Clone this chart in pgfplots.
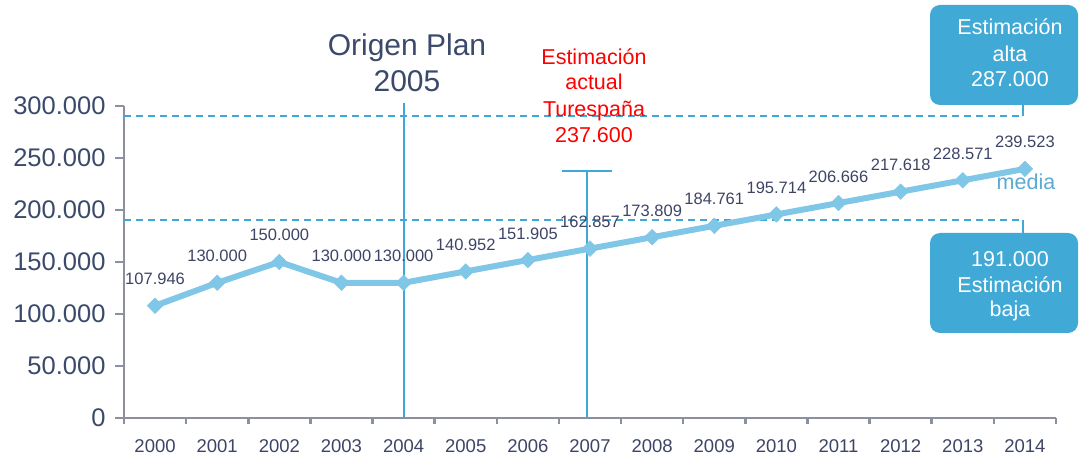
\documentclass[border=0pt]{standalone}
\usepackage{fontspec}
\setmainfont{Liberation Sans}
\usepackage{pgfplots}
\pgfplotsset{compat=1.18}
\usepackage{pgfplotstable}
\definecolor{axisgray}{HTML}{8C8FA0}
\definecolor{navy}{HTML}{3B4A6B}
\definecolor{lblue}{HTML}{80C6E6}
\definecolor{dblue}{HTML}{3FA8D8}
\definecolor{boxblue}{HTML}{41A9D6}
\definecolor{labc}{HTML}{3D4466}
\definecolor{mediac}{HTML}{5BAAD2}

\pgfplotstableread{
x y lab
0 107946 107.946
1 130000 130.000
2 150000 150.000
3 130000 130.000
4 130000 130.000
5 140952 140.952
6 151905 151.905
7 162857 162.857
8 173809 173.809
9 184761 184.761
10 195714 195.714
11 206666 206.666
12 217618 217.618
13 228571 228.571
14 239523 239.523
}\data

\begin{document}
\begin{tikzpicture}
\useasboundingbox (0,0) rectangle (1080pt,458pt);
\begin{axis}[at={(124pt,40pt)}, anchor=south west, scale only axis,
  width=932pt, height=312pt,
  xmin=-0.5, xmax=14.5, ymin=0, ymax=300000,
  scaled y ticks=false,
  axis x line*=bottom, axis y line*=left,
  axis line style={draw=axisgray, line width=2.5pt, -},
  clip=false,
  xtick={0,...,14},
  xticklabels={2000,2001,2002,2003,2004,2005,2006,2007,2008,2009,2010,2011,2012,2013,2014},
  minor xtick={-0.5,0.5,...,14.5},
  major x tick style={draw=none},
  minor x tick style={draw=axisgray, line width=2.5pt},
  minor tick length=6pt,
  ytick={0,50000,100000,150000,200000,250000,300000},
  yticklabels={0,50.000,100.000,150.000,200.000,250.000,300.000},
  y tick style={draw=axisgray, line width=2.5pt},
  major tick length=9pt,
  tick align=outside,
  xticklabel style={font=\fontsize{18.5}{21}\selectfont, text=labc, yshift=-9pt},
  yticklabel style={font=\fontsize{25.5}{29}\selectfont, text=navy, xshift=-6pt},
]
% reference lines
\addplot[dblue, line width=2pt, dash pattern=on 7pt off 5pt] coordinates {(-0.5,290000) (13.97,290000)};
\addplot[dblue, line width=2pt, dash pattern=on 7pt off 5pt] coordinates {(-0.5,190400) (13.97,190400)};
\addplot[dblue, line width=1.5pt] coordinates {(13.97,290000) (13.97,302900)};
\addplot[dblue, line width=1.5pt] coordinates {(13.97,190400) (13.97,177900)};
\addplot[dblue, line width=2pt] coordinates {(4,0) (4,302900)};
\addplot[dblue, line width=2pt] coordinates {(6.95,0) (6.95,237600)};
\addplot[dblue, line width=2pt] coordinates {(6.55,237600) (7.35,237600)};
% series
\addplot[lblue, line width=6pt, mark=square*, mark size=5.5pt,
  mark options={solid, rotate=45, fill=lblue, draw=lblue, line width=0.5pt},
  nodes near coords, point meta=explicit symbolic,
  every node near coord/.append style={anchor=base, yshift=21pt, inner sep=0pt,
    font=\fontsize{16.5}{19}\selectfont, text=labc}]
  table[x=x, y=y, meta=lab] {\data};
\end{axis}
% annotations
\node[anchor=base, text=navy, font=\fontsize{30}{34}\selectfont] at (407pt,402pt) {Origen Plan};
\node[anchor=base, text=navy, font=\fontsize{30}{34}\selectfont] at (407pt,366pt) {2005};
\begin{scope}[every node/.style={anchor=base, text=red, font=\fontsize{21.5}{24}\selectfont}]
\node at (594pt,393pt) {Estimación};
\node at (594pt,368pt) {actual};
\node at (594pt,341pt) {Turespaña};
\node at (594pt,315pt) {237.600};
\end{scope}
\node[anchor=base, text=mediac, font=\fontsize{21.5}{24}\selectfont] at (1026pt,268pt) {media};
% boxes
\fill[boxblue, rounded corners=10pt] (930pt,353pt) rectangle (1078pt,453pt);
\fill[boxblue, rounded corners=10pt] (930pt,125pt) rectangle (1078pt,225pt);
\begin{scope}[every node/.style={anchor=base, text=white, font=\fontsize{21.5}{24}\selectfont}]
\node at (1010pt,423pt) {Estimación};
\node at (1010pt,396pt) {alta};
\node at (1010pt,371pt) {287.000};
\node at (1010pt,191pt) {191.000};
\node at (1010pt,165pt) {Estimación};
\node at (1010pt,141pt) {baja};
\end{scope}
\end{tikzpicture}
\end{document}
